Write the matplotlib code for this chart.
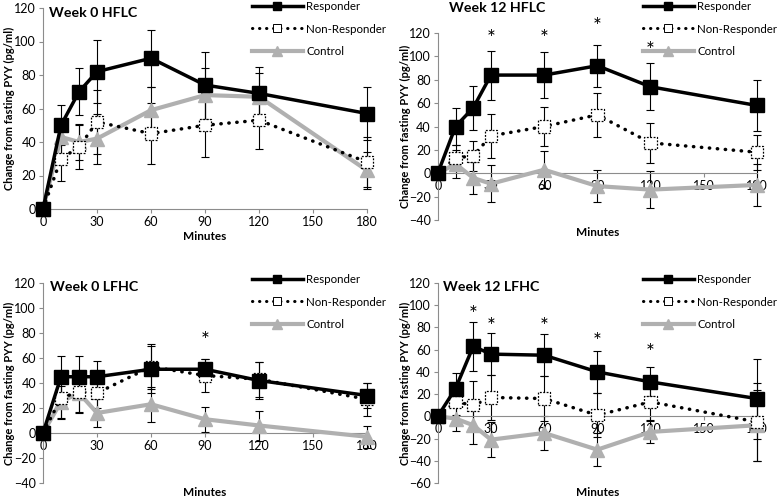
import matplotlib
matplotlib.use("Agg")
import matplotlib.pyplot as plt
from matplotlib.lines import Line2D

plt.rcParams['font.family'] = ['Lato', 'DejaVu Sans']

minutes = [0, 10, 20, 30, 60, 90, 120, 180]

# Week 0 HFLC
w0h_resp = [0, 50, 70, 82, 90, 74, 69, 57]
w0h_resp_se = [0, 12, 14, 19, 17, 20, 16, 16]
w0h_non = [0, 30, 37, 52, 45, 50, 53, 28]
w0h_non_se = [0, 13, 13, 19, 18, 19, 17, 15]
w0h_ctl = [0, 43, 40, 42, 59, 68, 67, 23]
w0h_ctl_se = [0, 10, 11, 15, 14, 16, 14, 11]
w0h_star_x = []
w0h_star_y = []

# Week 12 HFLC
w12h_resp = [0, 40, 56, 84, 84, 92, 74, 58]
w12h_resp_se = [0, 16, 19, 21, 20, 18, 20, 22]
w12h_non = [0, 13, 15, 32, 40, 50, 26, 18]
w12h_non_se = [0, 11, 13, 19, 17, 19, 17, 15]
w12h_ctl = [0, 8, -4, -9, 3, -11, -14, -10]
w12h_ctl_se = [0, 12, 14, 16, 16, 14, 16, 18]
w12h_star_x = [30, 60, 90, 120]
w12h_star_y = [115, 115, 125, 105]

# Week 0 LFHC
w0l_resp = [0, 45, 45, 45, 51, 51, 42, 30]
w0l_resp_se = [0, 17, 17, 13, 19, 8, 15, 10]
w0l_non = [0, 28, 33, 32, 53, 46, 43, 27]
w0l_non_se = [0, 17, 17, 12, 18, 13, 14, 13]
w0l_ctl = [0, 25, 32, 16, 23, 11, 6, -3]
w0l_ctl_se = [0, 13, 15, 11, 14, 10, 12, 9]
w0l_star_x = [90]
w0l_star_y = [74]

# Week 12 LFHC
w12l_resp = [0, 25, 63, 56, 55, 40, 31, 16]
w12l_resp_se = [0, 14, 22, 19, 19, 19, 13, 36]
w12l_non = [0, 13, 10, 17, 16, 1, 13, -5]
w12l_non_se = [0, 12, 22, 20, 20, 20, 16, 35]
w12l_ctl = [0, -2, -8, -21, -15, -30, -14, -8]
w12l_ctl_se = [0, 11, 17, 16, 15, 15, 10, 32]
w12l_star_x = [20, 30, 60, 90, 120]
w12l_star_y = [91, 80, 80, 67, 57]

AXIS_GRAY = '#8c8c8c'
CTL_GRAY = '#b0b0b0'


def draw_panel(ax, title, title_pos, legend_pos, ylim, yticks, xlabel_y,
               resp, resp_se, non, non_se, ctl, ctl_se, star_x, star_y):
    eb = dict(fmt='none', ecolor='black', elinewidth=0.8, capsize=3,
              capthick=0.8, zorder=2, clip_on=False)
    ax.errorbar(minutes, ctl, yerr=ctl_se, **eb)
    ax.errorbar(minutes, non, yerr=non_se, **eb)
    ax.errorbar(minutes, resp, yerr=resp_se, **eb)

    ax.plot(minutes, ctl, color=CTL_GRAY, lw=3, marker='^', ms=10,
            mfc=CTL_GRAY, mec=CTL_GRAY, zorder=3, clip_on=False)
    ax.plot(minutes, non, color='black', lw=2.5, ls=(0, (0.1, 2.2)),
            dash_capstyle='round', zorder=4, clip_on=False)
    ax.scatter(minutes, non, marker='s', s=80, facecolors='white',
               edgecolors='black', linewidths=0.9, linestyles=(0, (1.5, 1.2)),
               zorder=5, clip_on=False)
    ax.plot(minutes, resp, color='black', lw=2.5, marker='s', ms=9.5,
            zorder=6, clip_on=False)

    for sx, sy in zip(star_x, star_y):
        ax.text(sx, sy, '*', ha='center', va='center', fontsize=15)

    ax.set_xlim(0, 180)
    ax.set_ylim(*ylim)
    ax.set_xticks([0, 30, 60, 90, 120, 150, 180])
    ax.set_yticks(yticks)
    ax.spines['top'].set_visible(False)
    ax.spines['right'].set_visible(False)
    ax.spines['bottom'].set_position(('data', 0))
    ax.spines['left'].set_color(AXIS_GRAY)
    ax.spines['bottom'].set_color(AXIS_GRAY)
    ax.tick_params(axis='both', colors=AXIS_GRAY, labelcolor='black',
                   labelsize=9, length=3, direction='out', pad=2)
    ax.set_ylabel('Change from fasting PYY (pg/ml)', fontsize=8,
                  fontweight='bold')
    ax.yaxis.set_label_coords(-0.085, 0.5)
    ax.set_xlabel('Minutes', fontsize=8.5, fontweight='bold')
    ax.xaxis.set_label_coords(0.5, xlabel_y)

    fig.text(title_pos[0], title_pos[1], title, fontsize=10.2,
             fontweight='bold', ha='left', va='center')

    handles = [
        Line2D([], [], color='black', lw=2.5, marker='s', ms=6),
        Line2D([], [], color='black', lw=2.2, ls=(0, (0.1, 2.2)),
               dash_capstyle='round', marker='s', ms=6, mfc='white',
               mec='black', mew=0.7),
        Line2D([], [], color=CTL_GRAY, lw=3, marker='^', ms=6.5,
               mfc=CTL_GRAY, mec=CTL_GRAY),
    ]
    ax.legend(handles, ['Responder', 'Non-Responder', 'Control'],
              loc='upper left', bbox_to_anchor=legend_pos,
              bbox_transform=fig.transFigure, frameon=False, fontsize=8.3,
              handlelength=4.4, handletextpad=0.3, labelspacing=1.0,
              borderpad=0, borderaxespad=0)


fig = plt.figure(figsize=(7.79, 5), dpi=100)
ax1 = fig.add_axes([0.0552, 0.582, 0.416, 0.402])
ax2 = fig.add_axes([0.562, 0.56, 0.4095, 0.374])
ax3 = fig.add_axes([0.0552, 0.034, 0.416, 0.40])
ax4 = fig.add_axes([0.562, 0.034, 0.4095, 0.40])

draw_panel(ax1, 'Week 0 HFLC', (0.063, 0.974), (0.3235, 0.998), (0, 120),
           range(0, 121, 20), -0.11,
           w0h_resp, w0h_resp_se, w0h_non, w0h_non_se, w0h_ctl, w0h_ctl_se,
           w0h_star_x, w0h_star_y)
draw_panel(ax2, 'Week 12 HFLC', (0.577, 0.984), (0.8254, 0.998), (-40, 120),
           range(-40, 121, 20), -0.04,
           w12h_resp, w12h_resp_se, w12h_non, w12h_non_se, w12h_ctl,
           w12h_ctl_se, w12h_star_x, w12h_star_y)
draw_panel(ax3, 'Week 0 LFHC', (0.064, 0.426), (0.3235, 0.452), (-40, 120),
           range(-40, 121, 20), -0.02,
           w0l_resp, w0l_resp_se, w0l_non, w0l_non_se, w0l_ctl, w0l_ctl_se,
           w0l_star_x, w0l_star_y)
draw_panel(ax4, 'Week 12 LFHC', (0.569, 0.426), (0.8254, 0.452), (-60, 120),
           range(-60, 121, 20), -0.02,
           w12l_resp, w12l_resp_se, w12l_non, w12l_non_se, w12l_ctl,
           w12l_ctl_se, w12l_star_x, w12l_star_y)

fig.savefig('out.png', dpi=100)
